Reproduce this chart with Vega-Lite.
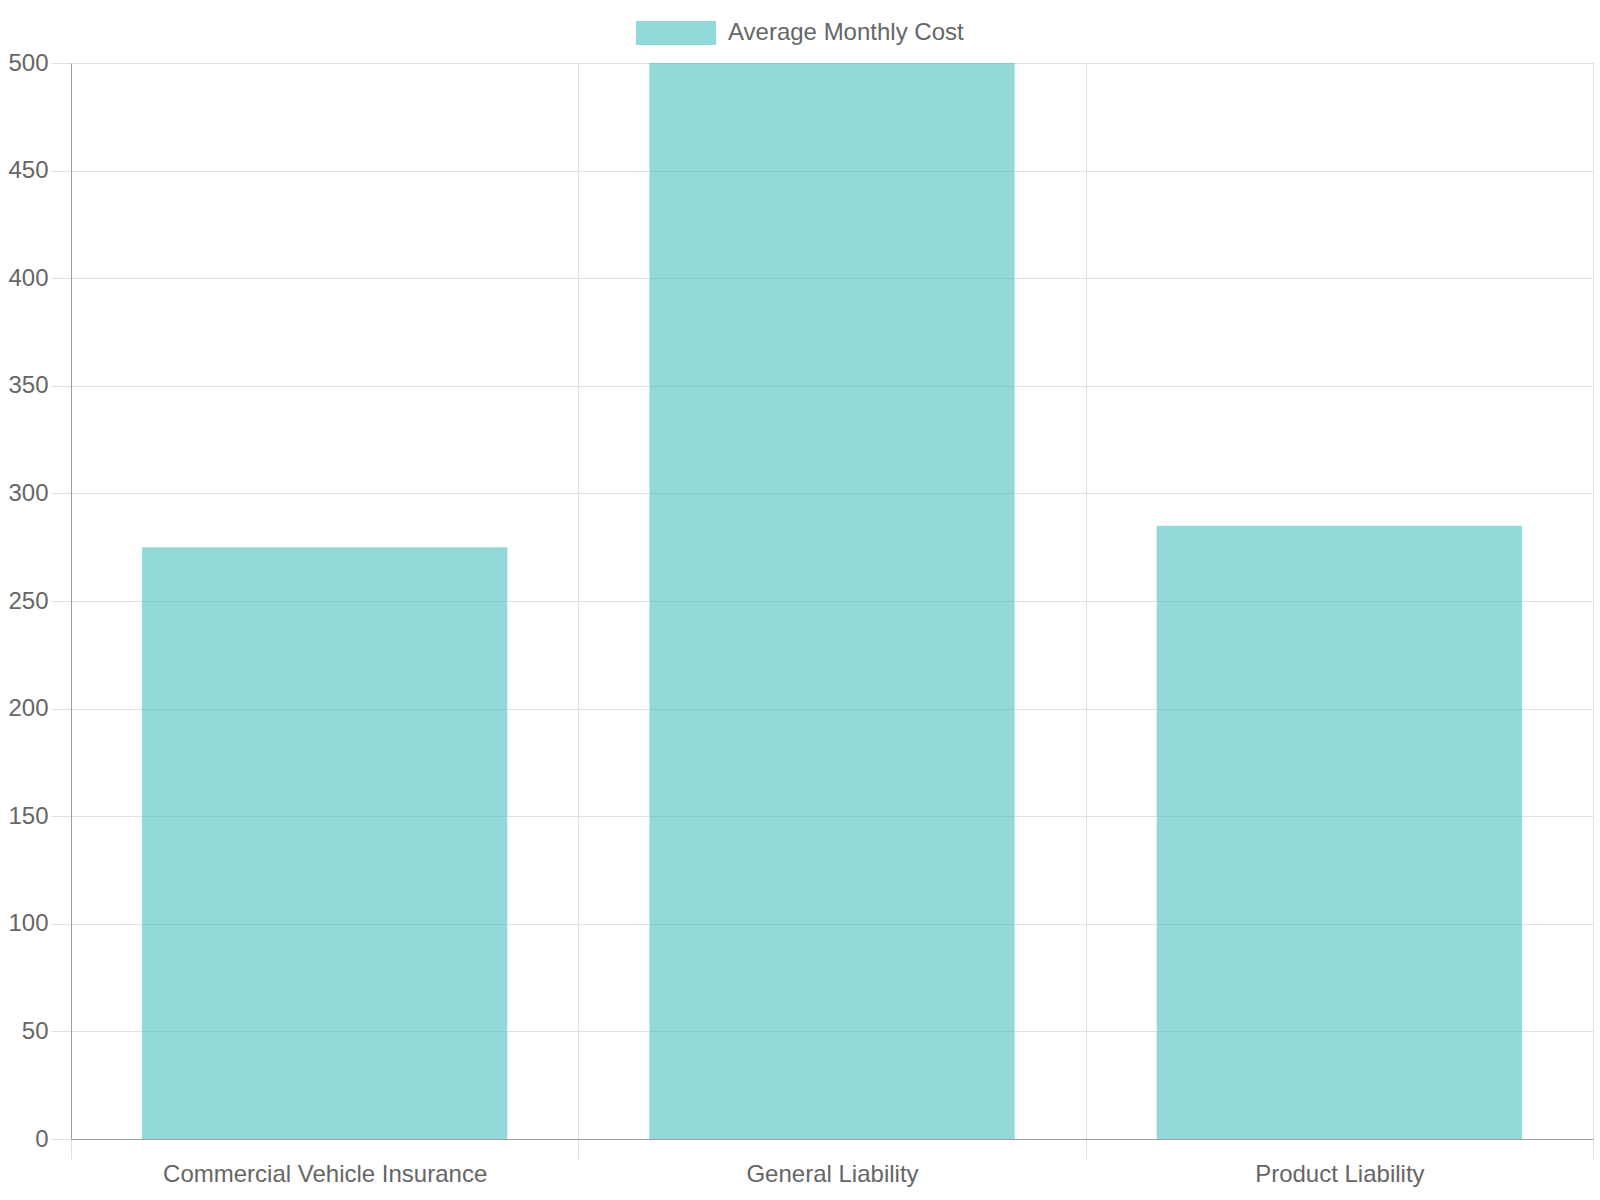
{
  "$schema": "https://vega.github.io/schema/vega-lite/v6.json",
  "autosize": "none",
  "width": 1522,
  "height": 1076,
  "padding": {"left": 71, "top": 63, "right": 7, "bottom": 61},
  "background": "white",
  "data": {
    "values": [
      {"category": "Commercial Vehicle Insurance", "cost": 275, "series": "Average Monthly Cost"},
      {"category": "General Liability", "cost": 500, "series": "Average Monthly Cost"},
      {"category": "Product Liability", "cost": 285, "series": "Average Monthly Cost"}
    ]
  },
  "mark": {"type": "bar", "fillOpacity": 0.6, "width": {"band": 0.72}},
  "encoding": {
    "x": {
      "field": "category",
      "type": "nominal",
      "sort": null,
      "scale": {"paddingInner": 0, "paddingOuter": 0},
      "axis": {
        "title": null,
        "labelAngle": 0,
        "tickBand": "extent",
        "grid": true,
        "gridColor": "#e0e0e0",
        "tickColor": "#e0e0e0",
        "tickSize": 20,
        "domainColor": "#9e9e9e",
        "labelPadding": 3,
        "labelFontSize": 24,
        "labelLimit": 0,
        "labelColor": "#666666",
        "labelFont": "Liberation Sans"
      }
    },
    "y": {
      "field": "cost",
      "type": "quantitative",
      "scale": {"domain": [0, 500], "nice": false},
      "axis": {
        "title": null,
        "values": [0, 50, 100, 150, 200, 250, 300, 350, 400, 450, 500],
        "grid": true,
        "gridColor": "#e0e0e0",
        "tickColor": "#e0e0e0",
        "tickSize": 20,
        "domainColor": "#9e9e9e",
        "labelPadding": 3,
        "labelFontSize": 24,
        "labelColor": "#666666",
        "labelFont": "Liberation Sans"
      }
    },
    "fill": {
      "field": "series",
      "type": "nominal",
      "scale": {"range": ["#4bc0c0"]},
      "legend": {
        "title": null,
        "orient": "none",
        "direction": "horizontal",
        "legendX": 565,
        "legendY": -70,
        "symbolType": "M-1,-0.3H1V0.3H-1Z",
        "symbolSize": 6400,
        "symbolOpacity": 0.6,
        "symbolStrokeWidth": 0,
        "labelFontSize": 24,
        "labelLimit": 0,
        "labelColor": "#666666",
        "labelFont": "Liberation Sans",
        "labelOffset": 12,
        "padding": 0
      }
    }
  },
  "config": {
    "view": {"stroke": null}
  }
}
